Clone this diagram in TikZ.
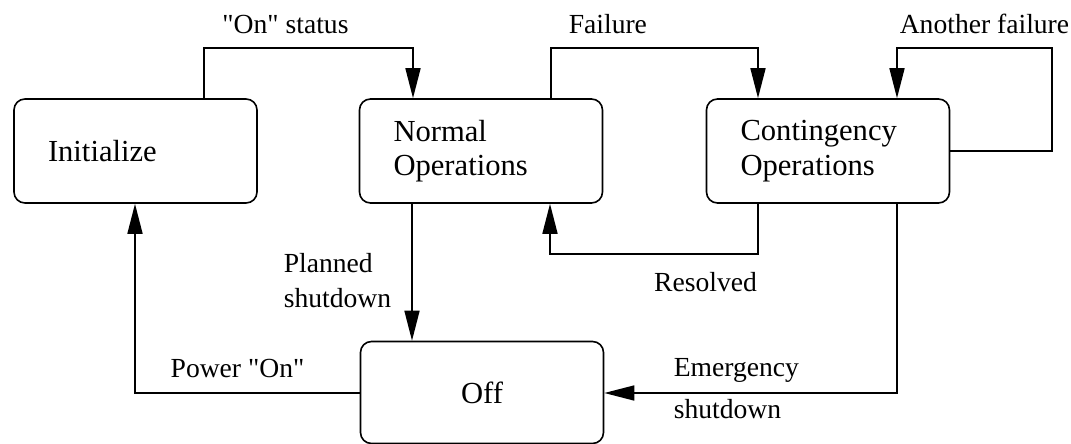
\documentclass[tikz,border=0pt]{standalone}
\usepackage{fontspec}
\setmainfont{Liberation Serif}
\usetikzlibrary{positioning, arrows.meta}

\begin{document}
\begin{tikzpicture}[
  x=0.5pt, y=-0.5pt,
  line width=0.8pt,
  mode/.style  ={rectangle, rounded corners=5.5pt, draw,
                 minimum width=121.5pt, minimum height=52pt,
                 inner xsep=17pt, text width=87.5pt, align=left,
                 font=\fontsize{15.3}{17.3}\selectfont},
  offmode/.style={mode, minimum height=51pt, align=center},
  flow/.style  ={-{Triangle[length=15pt, width=7.5pt]}},
  lbl/.style   ={inner sep=0pt, align=left,
                 font=\fontsize{13.8}{17.5}\selectfont}
]
\useasboundingbox (0,0) rectangle (1071,444);

% ---------- States ----------
\node[mode]    (init) at (135.5,151) {Initialize};
\node[mode]    (norm) at (481,151)   {Normal\\Operations};
\node[mode]    (cont) at (828,151)   {Contingency\\Operations};
\node[offmode] (off)  at (482,392.5) {Off};

% ---------- Elbow points ----------
\coordinate (onup)   at (204,48);
\coordinate (ondn)   at (413,48);
\coordinate (failup) at (551,48);
\coordinate (faildn) at (758,48);
\coordinate (anoR)   at (1052,151);
\coordinate (anoT)   at (1052,48);
\coordinate (anoL)   at (897,48);
\coordinate (resR)   at (758,254);
\coordinate (resL)   at (550,254);
\coordinate (plan)   at (412,280);
\coordinate (emR)    at (897,393);
\coordinate (powL)   at (135,393);

% ---------- Transitions ----------
\draw[flow] (init.north -| onup) -- (onup) -- (ondn) -- (norm.north -| ondn);
\draw[flow] (norm.north -| failup) -- (failup) -- (faildn) -- (cont.north -| faildn);
\draw[flow] (cont.east |- anoR) -- (anoR) -- (anoT) -- (anoL) -- (cont.north -| anoL);
\draw[flow] (cont.south -| resR) -- (resR) -- (resL) -- (norm.south -| resL);
\draw[flow] (norm.south -| plan) -- (off.north -| plan);
\draw[flow] (cont.south -| emR) -- (emR) -- (off.east |- emR);
\draw[flow] (off.west |- powL) -- (powL) -- (init.south -| powL);

% ---------- Labels ----------
\node[lbl]               (lon)   at (285.5,24)  {\textquotedbl On\textquotedbl{} status};
\node[lbl, anchor=west]  (lfail) at (568,24)    {Failure};
\node[lbl, anchor=west]  (lano)  at (899,24)    {Another failure};
\node[lbl, anchor=west]  (lplan) at (283,280.5) {Planned\\shutdown};
\node[lbl]               (lres)  at (705.5,282) {Resolved};
\node[lbl]               (lpow)  at (237.5,368) {Power \textquotedbl On\textquotedbl};
\node[lbl, anchor=west]  (lemer) at (673,389)   {Emergency\\[3.5pt]shutdown};

\end{tikzpicture}
\end{document}
